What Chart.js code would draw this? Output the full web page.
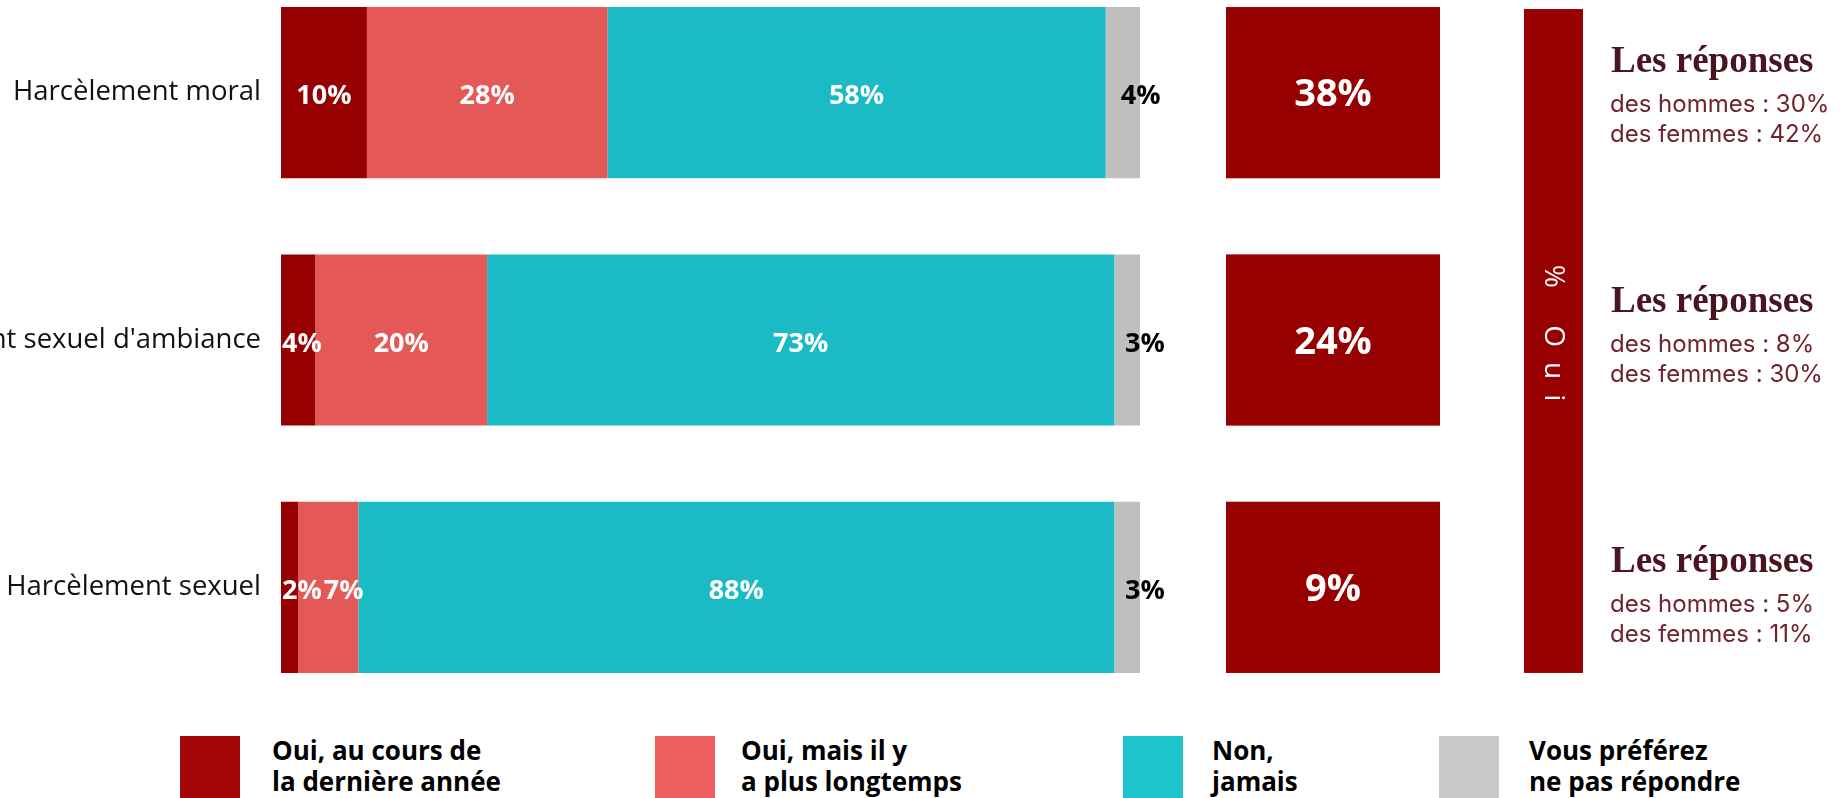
<!DOCTYPE html>
<html><head><meta charset="utf-8">
<script src="https://cdn.jsdelivr.net/npm/chart.js@4.4.0/dist/chart.umd.min.js"></script>
<style>
html,body{margin:0;padding:0;background:#fff;width:1848px;height:798px;overflow:hidden;position:relative;}
#wrap{position:absolute;left:0;top:-31px;width:1848px;height:742px;}
.lg-box{position:absolute;top:736px;width:60px;height:62px;}
.lg-txt{position:absolute;top:735px;font-family:"Open Sans";font-weight:700;font-size:26px;line-height:31px;color:#000;white-space:nowrap;}
</style></head><body>
<div id="wrap"><canvas id="c"></canvas></div>
<div id="legend"></div>
<script>
// ---- data ----
const categories = ["Harcèlement moral", "Harcèlement sexuel d'ambiance", "Harcèlement sexuel"];
const ouiDerniereAnnee = [10, 4, 2];
const ouiPlusLongtemps = [28, 20, 7];
const nonJamais = [58, 73, 88];
const sansReponse = [4, 3, 3];
const ouiTotal = [38, 24, 9];
const reponsesHommes = [30, 8, 5];
const reponsesFemmes = [42, 30, 11];
const seriesNames = [
  ["Oui, au cours de", "la dernière année"],
  ["Oui, mais il y", "a plus longtemps"],
  ["Non,", "jamais"],
  ["Vous préférez", "ne pas répondre"]
];
const ouiHeader = "% Oui";
const blockTitle = "Les réponses";

// ---- styles / layout ----
const OFFSET = 31;
const barColors = ['#960000', '#e45858', '#1abbc4', '#bfbfbf'];
const legendColors = ['#a30707', '#f05f5f', '#1fc5cd', '#c8c8c8'];
const legendBoxX = [180, 655, 1123, 1439];
const legendTextX = [272, 741, 1212, 1529];
const totalBox = {x: 1226, w: 214, color: '#960000'};
const ouiBar = {x: 1524, w: 59, color: '#990000'};
const blockX = 1611;
const blockBaselines = [72, 312, 572];

const legend = document.getElementById('legend');
seriesNames.forEach((lines, k) => {
  const b = document.createElement('div');
  b.className = 'lg-box'; b.style.left = legendBoxX[k] + 'px'; b.style.background = legendColors[k];
  legend.appendChild(b);
  const t = document.createElement('div');
  t.className = 'lg-txt'; t.style.left = legendTextX[k] + 'px';
  t.innerHTML = lines.join('<br>');
  legend.appendChild(t);
});

const customPlugin = {
  id: 'custom',
  afterDatasetsDraw(chart) {
    const ctx = chart.ctx;
    const yScale = chart.scales.y;
    const nd = chart.data.datasets.length;
    const n = chart.data.labels.length;
    ctx.save();
    // segment labels
    ctx.font = 'bold 27px "Open Sans"';
    ctx.textBaseline = 'middle';
    ctx.textAlign = 'left';
    for (let i = 0; i < n; i++) {
      let prevRight = -Infinity;
      const startBar = chart.getDatasetMeta(0).data[i].base;
      for (let d = 0; d < nd; d++) {
        const el = chart.getDatasetMeta(d).data[i];
        const txt = chart.data.datasets[d].data[i] + '%';
        const w = ctx.measureText(txt).width;
        const a = Math.min(el.base, el.x), b = Math.max(el.base, el.x);
        let left;
        if (d === nd - 1) { left = (a + b) / 2 - 2; ctx.fillStyle = '#000'; }
        else {
          left = Math.max((a + b) / 2 - w / 2, startBar + 1, prevRight + 2);
          ctx.fillStyle = '#fff';
        }
        ctx.fillText(txt, left, el.y + 4);
        prevRight = left + w;
      }
    }
    // total boxes
    const h = chart.getDatasetMeta(0).data[0].height;
    ctx.textAlign = 'center';
    ctx.font = 'bold 38px "Open Sans"';
    for (let i = 0; i < n; i++) {
      const y = yScale.getPixelForValue(i);
      ctx.fillStyle = totalBox.color;
      ctx.fillRect(totalBox.x, y - h / 2, totalBox.w, h);
      ctx.fillStyle = '#fff';
      ctx.fillText(ouiTotal[i] + '%', totalBox.x + totalBox.w / 2, y + 3);
    }
    // Oui vertical bar
    const top = yScale.getPixelForValue(0) - h / 2 + 2;
    const bot = yScale.getPixelForValue(n - 1) + h / 2;
    ctx.fillStyle = ouiBar.color;
    ctx.fillRect(ouiBar.x, top, ouiBar.w, bot - top);
    ctx.save();
    ctx.translate(ouiBar.x + ouiBar.w / 2, (top + bot) / 2 - 8);
    ctx.rotate(Math.PI / 2);
    ctx.font = '500 28px "Open Sans"';
    ctx.fillStyle = '#fff';
    ctx.textAlign = 'left';
    ctx.textBaseline = 'middle';
    const sp = 15;
    const chars = [...ouiHeader];
    let total = 0;
    chars.forEach(c => total += ctx.measureText(c).width + sp);
    total -= sp;
    let xx = -total / 2;
    chars.forEach(c => { ctx.fillText(c, xx, 1); xx += ctx.measureText(c).width + sp; });
    ctx.restore();
    // response blocks
    ctx.textAlign = 'left';
    ctx.textBaseline = 'alphabetic';
    for (let i = 0; i < n; i++) {
      const by = blockBaselines[i] + OFFSET;
      ctx.font = 'bold 37px "Liberation Serif"';
      ctx.fillStyle = '#4a1520';
      ctx.fillText(blockTitle, blockX, by);
      ctx.font = '24px Inter';
      ctx.fillStyle = '#6e2430';
      ctx.fillText('des hommes : ' + reponsesHommes[i] + '%', blockX - 1, by + 40);
      ctx.fillText('des femmes : ' + reponsesFemmes[i] + '%', blockX - 1, by + 70);
    }
    ctx.restore();
  }
};

const seriesData = [ouiDerniereAnnee, ouiPlusLongtemps, nonJamais, sansReponse];
new Chart(document.getElementById('c'), {
  type: 'bar',
  data: {
    labels: categories,
    datasets: seriesData.map((arr, k) => ({
      label: seriesNames[k].join(' '),
      data: arr,
      backgroundColor: barColors[k],
      borderWidth: 0,
      barPercentage: 171 / 247,
      categoryPercentage: 1
    }))
  },
  options: {
    indexAxis: 'y',
    responsive: true,
    maintainAspectRatio: false,
    animation: false,
    layout: {padding: {left: 0, right: 1848 - 1140, top: 0, bottom: 0}},
    plugins: {legend: {display: false}, tooltip: {enabled: false}},
    scales: {
      x: {stacked: true, min: 0, max: 100, display: false},
      y: {
        stacked: true,
        border: {display: false},
        grid: {display: false, drawTicks: false},
        ticks: {font: {family: 'Open Sans', size: 27.5}, color: '#111', padding: 20},
        afterFit(scale) { scale.width = 281; scale.paddingTop = 0; scale.paddingBottom = 0; }
      }
    }
  },
  plugins: [customPlugin]
});
</script>
</body></html>
